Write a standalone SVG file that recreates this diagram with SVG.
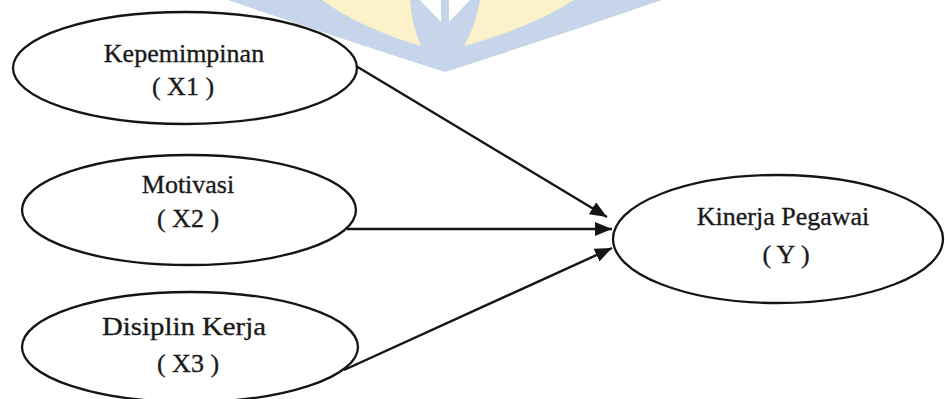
<svg xmlns="http://www.w3.org/2000/svg" width="945" height="399" viewBox="0 0 945 399">
  <defs>
    <style>
      .node ellipse { fill: none; stroke: #151515; stroke-width: 2.3; }
      .node text { font-family: "Liberation Serif", "Times New Roman", serif; font-size: 26px; fill: #1a1a1a; stroke: #1a1a1a; stroke-width: 0.35; text-anchor: middle; }
      .conn line { stroke: #151515; stroke-width: 2.4; }
    </style>
    <marker id="arrow" markerUnits="userSpaceOnUse" markerWidth="19" markerHeight="15" refX="17" refY="7" orient="auto">
      <path d="M0,0 L17,7 L0,14 Z" fill="#151515"/>
    </marker>
  </defs>
  <rect width="945" height="399" fill="#ffffff"/>
  <g id="watermark">
    <path d="M228,0 L662,0 Q560,35 445,72 Q330,35 228,0 Z" fill="#c6d5ea"/>
    <path d="M322,0 L410,0 Q412,25 421,46 Q360,28 322,0 Z" fill="#fbf2c9"/>
    <path d="M480,0 L574,0 Q530,28 464,46 Q476,25 480,0 Z" fill="#fbf2c9"/>
    <path d="M420,0 L441,0 L441,22 Z" fill="#ffffff"/>
    <path d="M449,0 L470,0 L449,22 Z" fill="#ffffff"/>
  </g>
  <g class="conn" id="connectors">
    <line x1="356" y1="66" x2="607" y2="217" marker-end="url(#arrow)"/>
    <line x1="347" y1="229" x2="612" y2="229" marker-end="url(#arrow)"/>
    <line x1="344" y1="370" x2="612" y2="248" marker-end="url(#arrow)"/>
  </g>
  <g class="node" id="x1">
    <ellipse cx="185" cy="68" rx="172" ry="56"/>
    <text x="184" y="62">Kepemimpinan</text>
    <text x="183" y="95">( X1 )</text>
  </g>
  <g class="node" id="x2">
    <ellipse cx="189" cy="210" rx="167" ry="55"/>
    <text x="188" y="193">Motivasi</text>
    <text x="188" y="227">( X2 )</text>
  </g>
  <g class="node" id="x3">
    <ellipse cx="190" cy="347" rx="168" ry="55"/>
    <text x="184" y="335" textLength="164" lengthAdjust="spacingAndGlyphs">Disiplin Kerja</text>
    <text x="188" y="372">( X3 )</text>
  </g>
  <g class="node" id="y">
    <ellipse cx="778" cy="239" rx="165" ry="64"/>
    <text x="783" y="225">Kinerja Pegawai</text>
    <text x="786" y="263">( Y )</text>
  </g>
</svg>
